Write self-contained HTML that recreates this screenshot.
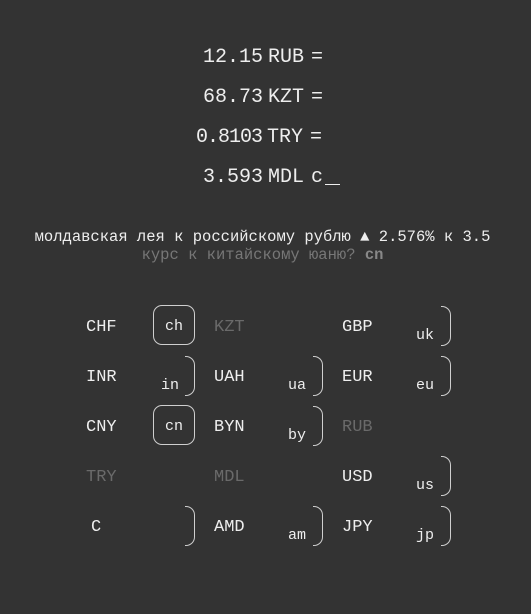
<!DOCTYPE html>
<html><head><meta charset="utf-8"><style>
html,body{margin:0;padding:0;}
body{width:531px;height:614px;background:#333333;position:relative;overflow:hidden;font-family:"Liberation Mono",monospace;color:#eeeeee;}
.m{position:absolute;font-size:20px;line-height:24px;white-space:pre;}
.m span{display:inline-block;}
.t{position:absolute;left:0;width:525px;text-align:center;font-size:15.5px;line-height:18px;white-space:pre;}
.c{position:absolute;font-size:17px;line-height:20px;}
.g{color:#6a6a6a;}
.b{position:absolute;width:42px;height:40px;box-sizing:border-box;border:1.5px solid #cfcfcf;border-radius:9px;}
.br{position:absolute;width:10px;height:40px;box-sizing:border-box;border:1.5px solid #cfcfcf;border-left:none;border-radius:0 9px 9px 0;}
.l{position:absolute;font-size:15px;line-height:18px;}
</style></head><body>
<div class="m" style="left:203px;top:46px">12.15<span style="margin-left:5px">RUB</span><span style="margin-left:7px">=</span></div>
<div class="m" style="left:203px;top:86px">68.73<span style="margin-left:5px">KZT</span><span style="margin-left:7px">=</span></div>
<div class="m" style="left:196px;top:126px"><span style="letter-spacing:-1px">0.8103</span><span style="margin-left:5px">TRY</span><span style="margin-left:7px">=</span></div>
<div class="m" style="left:203px;top:166px">3.593<span style="margin-left:5px">MDL</span><span style="margin-left:7px">c</span><span style="display:inline-block;width:15px;height:1.5px;background:#eee;margin-left:2px;vertical-align:-3px"></span></div>

<div class="t" style="top:228px">молдавская лея к российскому рублю ▲ 2.576% к 3.5</div>
<div class="t" style="top:246px;color:#777">курс к китайскому юаню? <b style="color:#888">cn</b></div>

<!-- row 1 -->
<div class="c" style="left:86px;top:318px">CHF</div>
<div class="b" style="left:153px;top:305px"></div><div class="l" style="left:165px;top:318px">ch</div>
<div class="c g" style="left:214px;top:318px">KZT</div>
<div class="c" style="left:342px;top:318px">GBP</div>
<div class="br" style="left:441px;top:306px"></div><div class="l" style="left:416px;top:327px">uk</div>
<!-- row 2 -->
<div class="c" style="left:86px;top:368px">INR</div>
<div class="br" style="left:185px;top:356px"></div><div class="l" style="left:161px;top:377px">in</div>
<div class="c" style="left:214px;top:368px">UAH</div>
<div class="br" style="left:313px;top:356px"></div><div class="l" style="left:288px;top:377px">ua</div>
<div class="c" style="left:342px;top:368px">EUR</div>
<div class="br" style="left:441px;top:356px"></div><div class="l" style="left:416px;top:377px">eu</div>
<!-- row 3 -->
<div class="c" style="left:86px;top:418px">CNY</div>
<div class="b" style="left:153px;top:405px"></div><div class="l" style="left:165px;top:418px">cn</div>
<div class="c" style="left:214px;top:418px">BYN</div>
<div class="br" style="left:313px;top:406px"></div><div class="l" style="left:288px;top:427px">by</div>
<div class="c g" style="left:342px;top:418px">RUB</div>
<!-- row 4 -->
<div class="c g" style="left:86px;top:468px">TRY</div>
<div class="c g" style="left:214px;top:468px">MDL</div>
<div class="c" style="left:342px;top:468px">USD</div>
<div class="br" style="left:441px;top:456px"></div><div class="l" style="left:416px;top:477px">us</div>
<!-- row 5 -->
<div class="c" style="left:91px;top:518px">C</div>
<div class="br" style="left:185px;top:506px"></div>
<div class="c" style="left:214px;top:518px">AMD</div>
<div class="br" style="left:313px;top:506px"></div><div class="l" style="left:288px;top:527px">am</div>
<div class="c" style="left:342px;top:518px">JPY</div>
<div class="br" style="left:441px;top:506px"></div><div class="l" style="left:416px;top:527px">jp</div>
</body></html>
